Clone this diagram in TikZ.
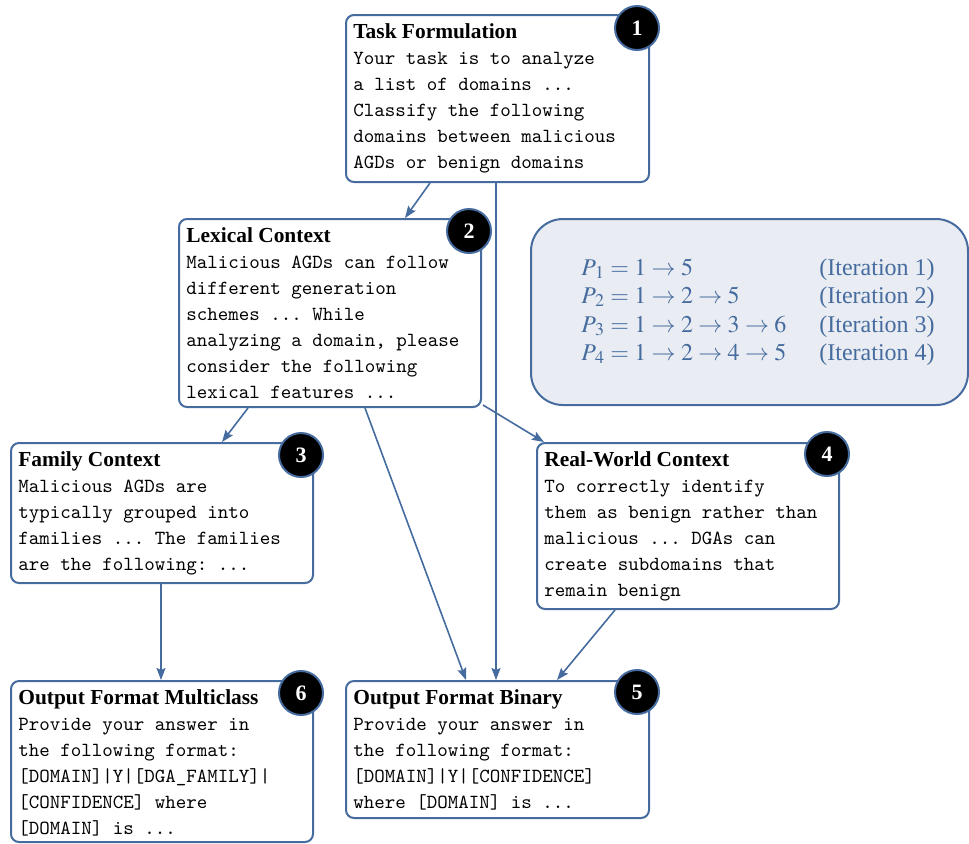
\documentclass[tikz,border=0pt]{standalone}
\usepackage{mathptmx}
\usepackage{fontspec}
\setmainfont{Liberation Serif}
\usetikzlibrary{calc,arrows.meta}
\definecolor{boxblue}{RGB}{70,107,158}
\definecolor{legfill}{RGB}{233,237,243}
\newcommand{\ttl}[1]{{\fontsize{10.7}{13}\selectfont\rmfamily\bfseries #1}}
\begin{document}
\frenchspacing
\begin{tikzpicture}[x=0.5pt,y=-0.5pt,
  box/.style={draw=boxblue, line width=1pt, rounded corners=4pt, fill=white,
    anchor=north west, inner sep=0pt, minimum width=151.5pt},
  txt/.style={anchor=north west, inner sep=0pt, align=left,
    font=\fontsize{10}{13}\selectfont\ttfamily\frenchspacing},
  num/.style={circle, fill=black, draw=boxblue, line width=1pt, minimum size=22pt,
    inner sep=0pt, text=white, font=\fontsize{11}{11}\selectfont\bfseries\rmfamily},
  arr/.style={draw=boxblue, line width=0.8pt, -{Stealth[length=6pt,width=4.5pt,inset=1pt]}},
  leg/.style={anchor=base west, inner sep=0pt, text=boxblue, font=\fontsize{12}{14}\selectfont}
]
\useasboundingbox (0,0) rectangle (969,843);

% legend
\node[draw=boxblue, fill=legfill, line width=1pt, rounded corners=16pt, anchor=north west,
  inner sep=0pt, minimum width=218.5pt, minimum height=93pt] (leg) at (530,218) {};
\node[leg] (la1) at (581,275) {$P_{\,1} = 1 \rightarrow 5$};
\node[leg] (la2) at (581,303) {$P_{\,2} = 1 \rightarrow 2 \rightarrow 5$};
\node[leg] (la3) at (581,332) {$P_{\,3} = 1 \rightarrow 2 \rightarrow 3 \rightarrow 6$};
\node[leg] (la4) at (581,360) {$P_{\,4} = 1 \rightarrow 2 \rightarrow 4 \rightarrow 5$};
\node[leg] (lb1) at (819,275) {(Iteration 1)};
\node[leg] (lb2) at (819,303) {(Iteration 2)};
\node[leg] (lb3) at (819,332) {(Iteration 3)};
\node[leg] (lb4) at (819,360) {(Iteration 4)};

% boxes
\node[box, minimum height=83.5pt] (n1) at (345,14) {};
\node[box, minimum width=151pt, minimum height=94pt] (n2) at (178,218) {};
\node[box, minimum width=151pt, minimum height=70pt] (n3) at (10,442) {};
\node[box, minimum width=151pt, minimum height=83pt] (n4) at (536,442) {};
\node[box, minimum height=68.5pt] (n5) at (345,680) {};
\node[box, minimum width=151pt, minimum height=80.5pt] (n6) at (10,680) {};

\node[txt] (t1) at ($(n1.north west)+(8,9)$) {\ttl{Task Formulation}\\
Your task is to analyze\\ a list of domains ...\\ Classify the following\\
domains between malicious\\ AGDs or benign domains};
\node[txt] (t2) at ($(n2.north west)+(8,9)$) {\ttl{Lexical Context}\\
Malicious AGDs can follow\\ different generation\\ schemes ... While\\
analyzing a domain, please\\ consider the following\\ lexical features ...};
\node[txt] (t3) at ($(n3.north west)+(8,9)$) {\ttl{Family Context}\\
Malicious AGDs are\\ typically grouped into\\ families ... The families\\
are the following: ...};
\node[txt] (t4) at ($(n4.north west)+(8,9)$) {\ttl{Real-World Context}\\
To correctly identify\\ them as benign rather than\\ malicious ... DGAs can\\
create subdomains that\\ remain benign};
\node[txt] (t5) at ($(n5.north west)+(8,9)$) {\ttl{Output Format Binary}\\
Provide your answer in\\ the following format:\\{}[DOMAIN]|Y|[CONFIDENCE]\\
where [DOMAIN] is ...};
\node[txt] (t6) at ($(n6.north west)+(8,9)$) {\ttl{Output Format Multiclass}\\
Provide your answer in\\ the following format:\\{}[DOMAIN]|Y|[DGA\_FAMILY]|\\{}[CONFIDENCE] where\\{}[DOMAIN] is ...};

% numbers
\node[num] (c1) at ($(n1.north east)+(-13,14)$) {1};
\node[num] (c2) at ($(n2.north east)+(-13,13)$) {2};
\node[num] (c3) at ($(n3.north east)+(-13,13)$) {3};
\node[num] (c4) at ($(n4.north east)+(-13,12)$) {4};
\node[num] (c5) at ($(n5.north east)+(-13,12)$) {5};
\node[num] (c6) at ($(n6.north east)+(-13,13)$) {6};

% connectors
\draw[arr] ($(n1.south west)+(85,0)$) -- ($(n2.north west)+(227,0)$);
\draw[arr] ($(n1.south west)+(151,0)$) -- ($(n5.north west)+(151,0)$);
\draw[arr] ($(n2.south west)+(70,0)$) -- ($(n3.north west)+(212,0)$);
\draw[arr] ($(n2.south west)+(187,0)$) -- ($(n5.north west)+(121,0)$);
\draw[arr] ($(n2.south east)+(1,-3)$) -- ($(n4.north west)+(8,0)$);
\draw[arr] ($(n3.south west)+(151,0)$) -- ($(n6.north west)+(151,0)$);
\draw[arr] ($(n4.south west)+(79,0)$) -- ($(n5.north west)+(212,0)$);
\end{tikzpicture}
\end{document}
